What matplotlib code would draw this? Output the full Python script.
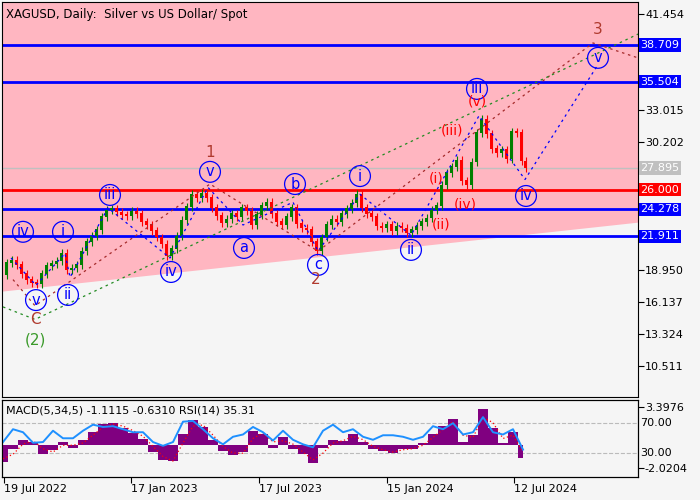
import numpy as np
import matplotlib.pyplot as plt

# price path, bar index vs close
bar_x = [0, 5, 10, 15, 20, 25, 30, 35, 40, 45, 50, 55, 60, 65, 70, 75, 80, 85, 90, 95,
         100, 105, 110, 115, 120, 125, 130, 135, 140, 145, 150, 155, 160, 165, 170, 175,
         180, 185, 190, 195, 200, 205, 210, 215, 220, 225, 230, 235, 240, 245, 250, 255,
         260, 265, 270, 275, 280, 285, 290, 295, 300, 305, 310, 315, 320, 325, 330, 335,
         340, 345, 350, 355, 360, 365, 370, 375, 380, 385, 390, 395, 400, 405, 410, 415,
         420, 425, 430, 435, 440, 445, 450, 455, 460, 465, 470, 475, 480, 485, 490, 495,
         500, 505, 510, 515, 520, 523]
closes = [18.5, 19.6, 19.8, 19.4, 18.6, 18.1, 17.8, 17.7, 18.6, 19.3, 19.5, 19.7, 20.4,
          18.9, 19.1, 19.4, 20.6, 21.4, 21.9, 22.5, 23.6, 24.2, 24.3, 24.0, 23.8, 23.7,
          24.1, 23.9, 23.2, 22.9, 22.4, 21.8, 21.2, 20.2, 20.8, 21.9, 23.3, 24.5, 25.6,
          25.3, 25.7, 25.3, 24.4, 23.7, 23.1, 23.4, 23.9, 23.6, 24.4, 24.1, 22.9, 23.8,
          24.6, 24.9, 23.9, 23.2, 22.9, 23.6, 24.4, 23.0, 22.6, 22.5, 21.4, 20.6, 21.8,
          22.9, 23.4, 23.2, 23.9, 24.3, 24.8, 25.6, 24.4, 23.9, 23.6, 22.8, 22.6, 22.9,
          22.4, 22.8, 22.6, 22.2, 22.5, 22.8, 23.2, 23.5, 24.2, 24.6, 26.4, 27.5, 28.0,
          28.6, 26.8, 26.4, 28.4, 31.0, 32.2, 30.9, 29.6, 29.2, 29.5, 28.7, 31.1, 31.0,
          28.5, 27.9]

# indicator panel
ind_x = list(range(0, 530, 10))
macd = [-1.5, -0.3, 0.5, 0.3, -0.8, -0.4, 0.3, -0.2, 0.5, 1.2, 1.9, 2.0, 1.5, 1.1, 0.6,
        -0.6, -1.3, -1.4, 1.0, 2.2, 1.6, 0.5, -0.5, -0.9, -0.6, 1.3, 1.0, -0.2, 0.7, -0.3,
        -0.8, -1.6, -0.2, 0.5, 0.4, 1.0, 0.3, -0.3, -0.5, -0.7, -0.3, -0.3, 0.2, 1.0, 1.7,
        2.3, 0.3, 0.9, 3.2, 1.5, 0.2, 1.2, -1.1]
signal = [-1.2, -0.8, 0.1, 0.4, -0.3, -0.6, 0.0, 0.0, 0.2, 0.9, 1.6, 1.9, 1.7, 1.3, 0.8,
          -0.1, -1.0, -1.4, 0.2, 1.7, 1.8, 0.9, -0.1, -0.7, -0.7, 0.6, 1.1, 0.3, 0.4, 0.1,
          -0.6, -1.3, -0.7, 0.2, 0.4, 0.8, 0.5, -0.1, -0.4, -0.6, -0.4, -0.3, 0.0, 0.7, 1.4,
          2.1, 0.9, 0.7, 2.5, 2.0, 0.6, 0.9, -0.6]
rsi = [45, 62, 58, 44, 45, 60, 50, 50, 60, 68, 65, 66, 62, 58, 58, 45, 40, 45, 72, 73,
       62, 50, 42, 52, 55, 65, 58, 47, 60, 48, 42, 38, 60, 68, 58, 62, 52, 48, 54, 54,
       52, 48, 52, 66, 62, 70, 55, 58, 78, 58, 55, 62, 35]

blue_levels = [38.709, 35.504, 24.278, 21.911]
red_level = 26.0
last_price = 27.895
price_ticks = [10.511, 13.324, 16.137, 18.950, 30.202, 33.015, 41.454]
macd_ticks = [-2.0204, 3.3976]
rsi_ticks = [30, 70]
date_pos = [1, 128, 256, 384, 511]
date_labels = ["19 Jul 2022", "17 Jan 2023", "17 Jul 2023", "15 Jan 2024", "12 Jul 2024"]

# wave markup
circled = [("iv", 20, 22.3), ("v", 33, 16.3), ("i", 60, 22.3), ("ii", 65, 16.75),
           ("iii", 107, 25.54), ("iv", 168, 18.77), ("v", 207, 27.57), ("a", 241, 20.88),
           ("b", 292, 26.5), ("c", 315, 19.39), ("i", 357, 27.2), ("ii", 408, 20.71),
           ("iii", 474, 34.86), ("iv", 523, 25.45), ("v", 595, 37.59)]
major = [("1", 207, 29.3), ("2", 313, 18.1), ("3", 595, 40.1), ("C", 32, 14.6)]
minor = [("(i)", 433, 26.95), ("(ii)", 438, 22.9), ("(iii)", 449, 31.2),
         ("(iv)", 462, 24.67), ("(v)", 474, 33.72)]
blue_path_x = [8, 33, 62, 67, 105, 167, 205, 240, 290, 315, 357, 408, 476, 522, 595]
blue_path_y = [20.0, 17.6, 20.4, 18.3, 24.4, 20.0, 26.2, 22.9, 24.9, 20.6, 25.6, 22.0, 32.5, 26.9, 37.0]
brown_path_x = [10, 32, 207, 315, 590, 638]
brown_path_y = [18.1, 15.8, 26.5, 20.6, 38.9, 37.5]
green_path_x = [0, 32, 638]
green_path_y = [15.7, 14.6, 39.8]
shade_x = [-5, 640]
shade_y = [17.05, 23.2]

bg = "#f5f5f5"
fig = plt.figure(figsize=(7, 5), dpi=100, facecolor=bg)
ax = fig.add_axes([2 / 700, 103 / 500, 636 / 700, 395 / 500])
ax.set_facecolor(bg)
ax.set_xlim(-1, 635)
ax.set_ylim(7.78, 42.5)

ax.fill_between(shade_x, shade_y, 50, color="#ffb6c1", lw=0, zorder=0)

for lv in blue_levels:
    ax.axhline(lv, color="#0000ff", lw=2, zorder=2)
ax.axhline(red_level, color="#ff0000", lw=2, zorder=2)
ax.axhline(last_price, color="#c0c0c0", lw=1, zorder=1)

# candles
for i in range(1, len(closes)):
    o, c = closes[i - 1], closes[i]
    col = "#008000" if c >= o else "#ff0000"
    xm = (bar_x[i] + bar_x[i - 1]) / 2 + 1
    ax.vlines(xm, min(o, c) - 0.35, max(o, c) + 0.35, color=col, lw=0.8, zorder=3)
    ax.bar(xm, abs(c - o) + 0.05, bottom=min(o, c), width=3.5, color=col, zorder=3)

ax.plot(blue_path_x, blue_path_y, color="#0000ff", ls=(0, (2, 3)), lw=0.9, zorder=4)
ax.plot(brown_path_x, brown_path_y, color="#a52a2a", ls=(0, (2, 3)), lw=0.9, zorder=4)
ax.plot(green_path_x, green_path_y, color="#228b22", ls=(0, (2, 3)), lw=0.9, zorder=4)

for t, x, y in circled:
    ax.text(x, y, t, color="#0000ff", fontsize=10.5, ha="center", va="center", zorder=5,
            bbox=dict(boxstyle="circle,pad=0.2", fc="none", ec="#0000ff", lw=0.9))
for t, x, y in major:
    ax.text(x, y, t, color="#b03a2e", fontsize=11, ha="center", va="center", zorder=5)
for t, x, y in minor:
    ax.text(x, y, t, color="#ff0000", fontsize=10, ha="center", va="center", zorder=5)
ax.text(32, 12.8, "(2)", color="#3a9a2a", fontsize=11, ha="center", va="center")

ax.text(0.006, 0.985, "XAGUSD, Daily:  Silver vs US Dollar/ Spot", transform=ax.transAxes,
        fontsize=8.5, va="top", ha="left")

ax.yaxis.tick_right()
ax.set_yticks(price_ticks)
ax.set_yticklabels([f"{v:.3f}" for v in price_ticks], fontsize=8)
ax.set_xticks([])
ax.tick_params(axis="y", length=4, pad=1)

def tag(y, txt, fc, tc="white"):
    ax.text(1.004, y, txt, transform=ax.get_yaxis_transform(), fontsize=8, color=tc,
            va="center", ha="left", zorder=6,
            bbox=dict(boxstyle="square,pad=0.15", fc=fc, ec="none"))

for lv in blue_levels:
    tag(lv, f"{lv:.3f}", "#0000ff")
tag(red_level, f"{red_level:.3f}", "#ff0000")
tag(last_price, f"{last_price:.3f}", "#c0c0c0")

# indicator panel: RSI on ax2 (behind), MACD on ax3 (front)
ax2 = fig.add_axes([2 / 700, 23 / 500, 636 / 700, 77 / 500])
ax2.set_facecolor(bg)
ax2.set_xlim(-1, 635)
ax2.set_ylim(-1.3, 100.7)
ax2.axhline(70, color="#bbbbbb", ls="--", lw=0.8)
ax2.axhline(30, color="#bbbbbb", ls="--", lw=0.8)
ax2.set_xticks(date_pos)
ax2.set_xticklabels(date_labels, fontsize=8, ha="left")

ax3 = ax2.twinx()
ax3.set_xlim(-1, 635)
ax3.set_ylim(-2.82, 4.02)
ax3.fill_between(ind_x, macd, 0, step="mid", color="#800080", lw=0)
ax3.plot(ind_x, signal, color="#ff0000", ls=(0, (1, 2)), lw=0.9)
ax3.plot(ind_x, np.array(rsi) * (6.84 / 102.0) - 2.82 + 1.3 * 6.84 / 102.0,
         color="#1e90ff", lw=1.4)
ax3.set_yticks(macd_ticks)
ax3.set_yticklabels(["-2.0204", "3.3976"], fontsize=8)
ax3.tick_params(length=4, pad=1)
ax2.tick_params(axis="x", length=4, pad=1)
ax2.set_yticks([])
for r in rsi_ticks:
    ax2.text(1.004, r, f"{r:.2f}", transform=ax2.get_yaxis_transform(), fontsize=8,
             va="center", ha="left")
ax3.text(0.006, 0.93, "MACD(5,34,5) -1.1115 -0.6310 RSI(14) 35.31", transform=ax3.transAxes,
         fontsize=8, va="top", ha="left")

fig.savefig("out.png", dpi=100, facecolor=bg)
